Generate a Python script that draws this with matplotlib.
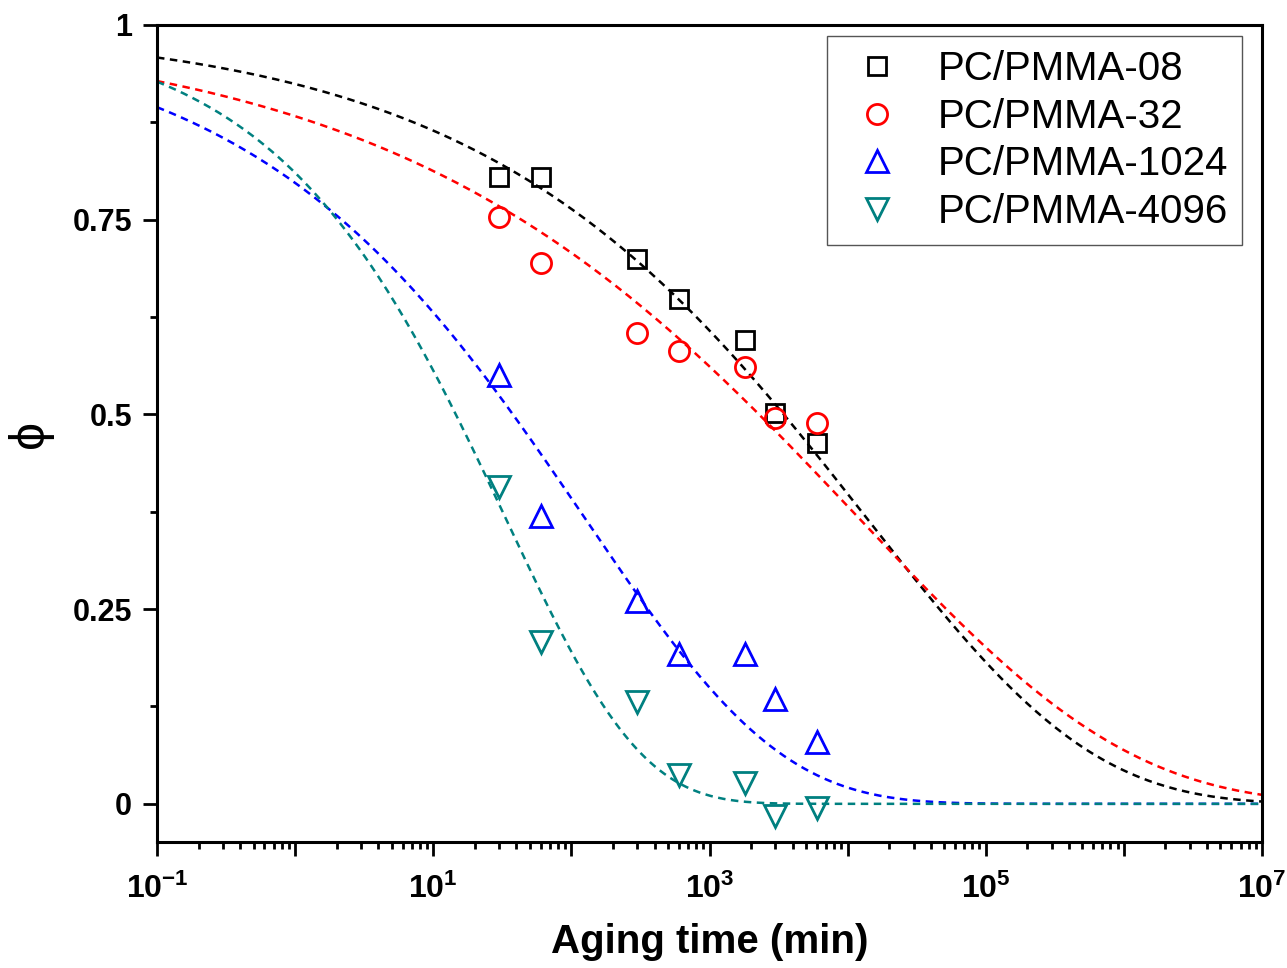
import numpy as np
import matplotlib
matplotlib.use("Agg")
import matplotlib.pyplot as plt
from matplotlib.ticker import FixedLocator, FuncFormatter, NullFormatter

plt.rcParams['font.family'] = ['Liberation Sans', 'DejaVu Sans']
plt.rcParams['mathtext.fontset'] = 'custom'
plt.rcParams['mathtext.rm'] = 'Liberation Sans'
plt.rcParams['mathtext.bf'] = 'Liberation Sans:bold'

# ---- data ----
aging_time = [30, 60, 300, 600, 1800, 3000, 6000]  # min
phi_08 = [0.805, 0.805, 0.700, 0.648, 0.595, 0.502, 0.463]
phi_32 = [0.753, 0.695, 0.605, 0.581, 0.561, 0.495, 0.489]
phi_1024 = [0.551, 0.370, 0.260, 0.193, 0.193, 0.135, 0.080]
phi_4096 = [0.407, 0.208, 0.131, 0.037, 0.027, -0.015, -0.005]

labels = ['PC/PMMA-08', 'PC/PMMA-32', 'PC/PMMA-1024', 'PC/PMMA-4096']
# KWW fit parameters: tau (min), beta
tau_fit = [13600, 11900, 124, 33.2]
beta_fit = [0.267, 0.222, 0.308, 0.445]

colors = ['#000000', '#ff0000', '#0000ff', '#008080']
markers = ['s', 'o', '^', 'v']
msizes = [13, 14.5, 16, 16]

fig = plt.figure(figsize=(12.87, 9.68), dpi=100)
W, H = 1287, 968
ax = fig.add_axes([157 / W, 1 - 842 / H, (1262 - 157) / W, (842 - 25) / H])

t_fit = np.logspace(-1, 7, 500)
for tau, beta, c in zip(tau_fit, beta_fit, colors):
    ax.plot(t_fit, np.exp(-(t_fit / tau) ** beta), color=c, lw=1.8,
            linestyle=(0, (3.0, 2.2)), zorder=2)

series = [phi_08, phi_32, phi_1024, phi_4096]
for ys, c, m, ms, lab in zip(series, colors, markers, msizes, labels):
    ax.plot(aging_time, ys, linestyle='none', marker=m, ms=ms, mfc='none',
            mec=c, mew=2.0, label=lab, zorder=3)

ax.set_xscale('log')
ax.set_xlim(0.1, 1e7)
ax.set_ylim(-0.049, 1.0)

ax.xaxis.set_major_locator(FixedLocator([10.0 ** k for k in range(-1, 8)]))
def xfmt(v, pos):
    k = int(round(np.log10(v)))
    if k % 2 == 1 or k == -1:
        return r'$\mathbf{10^{%d}}$' % k
    return ''
ax.xaxis.set_major_formatter(FuncFormatter(xfmt))
ax.xaxis.set_minor_locator(FixedLocator([m * 10.0 ** k for k in range(-1, 7) for m in range(2, 10)]))
ax.xaxis.set_minor_formatter(NullFormatter())

ax.yaxis.set_major_locator(FixedLocator([0, 0.25, 0.5, 0.75, 1.0]))
ax.yaxis.set_major_formatter(FuncFormatter(lambda v, p: {0: '0', 0.25: '0.25', 0.5: '0.5', 0.75: '0.75', 1.0: '1'}.get(round(v, 2), '')))
ax.yaxis.set_minor_locator(FixedLocator([0.125, 0.375, 0.625, 0.875]))

for s in ax.spines.values():
    s.set_linewidth(2.2)

ax.tick_params(which='major', direction='out', length=10, width=2.0, labelsize=22)
ax.tick_params(axis='x', which='major', pad=13, labelsize=23)
ax.tick_params(axis='y', which='major', pad=8)
ax.tick_params(which='minor', direction='out', length=5, width=2.0)
ax.tick_params(top=False, right=False, which='both')
for lab in ax.get_yticklabels():
    lab.set_fontweight('bold')

ax.set_xlabel('Aging time (min)', fontsize=29, fontweight='bold', labelpad=13)
ax.set_ylabel('ϕ', fontsize=36, labelpad=14)

leg = ax.legend(loc='upper right', bbox_to_anchor=(1242 / W, 1 - 36 / H),
                bbox_transform=fig.transFigure, fontsize=29, frameon=True,
                fancybox=False, edgecolor='#555555', framealpha=1,
                handletextpad=0.6, labelspacing=0.24, borderpad=0.35,
                handlelength=1.8, borderaxespad=0)
leg.get_frame().set_linewidth(1.0)

fig.savefig('out.png', dpi=100)
